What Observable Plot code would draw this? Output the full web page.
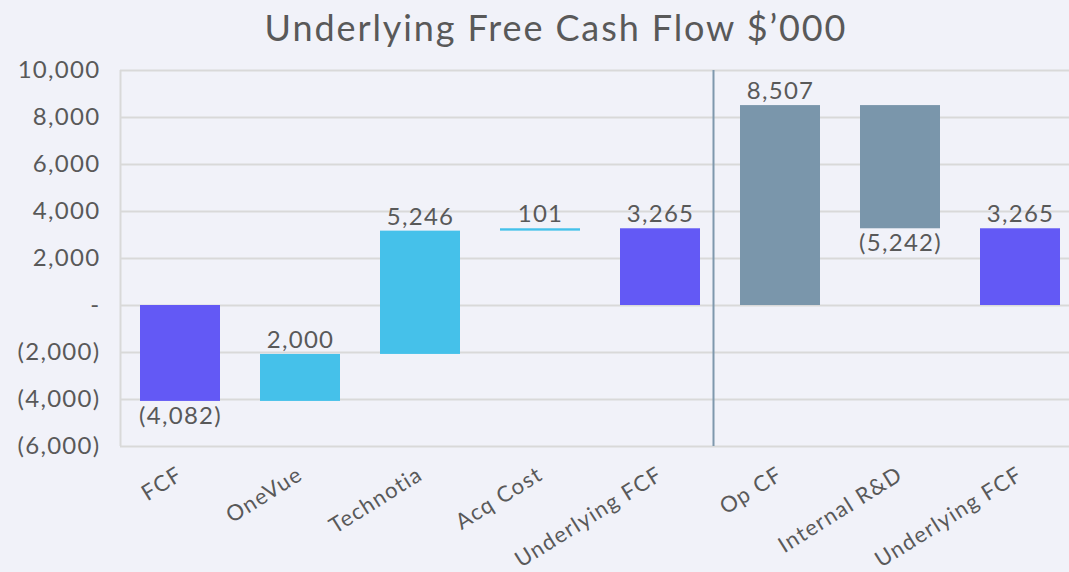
<!DOCTYPE html>
<html>
<head>
<meta charset="utf-8">
<script src="https://cdn.jsdelivr.net/npm/d3@7"></script>
<script src="https://cdn.jsdelivr.net/npm/@observablehq/plot@0.6"></script>
<style>
  html, body { margin: 0; padding: 0; background: #f1f2f9; overflow: hidden; width: 1069px; height: 572px; }
  #title { height: 52px; line-height: 54px; font-family: Lato, sans-serif; font-size: 36px; color: #595959; text-align: center; padding-left: 43px; box-sizing: border-box; width: 1069px; letter-spacing: 1.9px; white-space: nowrap; overflow: visible; }
  #chart { width: 1080px; }
  #chart svg { display: block; max-width: none !important; }
</style>
</head>
<body>
<div id="title">Underlying Free Cash Flow $’000</div>
<div id="chart"></div>
<script>
const categories = ["FCF", "OneVue", "Technotia", "Acq Cost", "Underlying FCF", "Op CF", "Internal R&D", "Underlying FCF"];
const values = [-4082, 2000, 5246, 101, 3265, 8507, -5242, 3265];
const kinds = ["total", "delta", "delta", "delta", "total", "total", "delta", "total"];
const groups = ["total", "acq", "acq", "acq", "total", "op", "op", "total"];
const yTicks = [-6000, -4000, -2000, 0, 2000, 4000, 6000, 8000, 10000];

const colors = {total: "#6359f5", acq: "#45c1ea", op: "#7a96ab"};
const fmt = d3.format(",");
const acct = d => d === 0 ? "-" : d < 0 ? `(${fmt(-d)})` : fmt(d);

let run = 0;
const rows = categories.map((c, i) => {
  let y1, y2;
  if (kinds[i] === "total") { y1 = 0; y2 = values[i]; }
  else { y1 = run; y2 = run + values[i]; }
  run = y2;
  return {i, name: c, y1, y2, value: values[i], group: groups[i],
          top: Math.max(y1, y2), bottom: Math.min(y1, y2)};
});
const pos = rows.filter(d => d.value >= 0);
const neg = rows.filter(d => d.value < 0);

const textColor = "#595959";
const chart = Plot.plot({
  width: 1080,
  height: 520,
  marginLeft: 120,
  marginRight: 0,
  marginTop: 18,
  marginBottom: 126,
  style: {background: "transparent", fontFamily: "Lato, sans-serif", color: textColor, maxWidth: "none", letterSpacing: "1.3px"},
  x: {domain: rows.map(d => d.i), paddingInner: 1/3, paddingOuter: 1/6, label: null},
  y: {domain: [-6000, 10000], label: null},
  marks: [
    Plot.gridY(yTicks, {stroke: "#d9d9d9", strokeOpacity: 1, strokeWidth: 2}),
    Plot.ruleX([0], {x: d => d, dx: -60, y1: -6000, y2: 10000, stroke: "#d9d9d9", strokeWidth: 2}),
    Plot.barY(rows, {x: "i", y1: "y1", y2: "y2", fill: d => colors[d.group]}),
    Plot.ruleX([5], {x: d => d, dx: -67, y1: -6000, y2: 10000, stroke: "#7f98ad", strokeWidth: 2}),
    Plot.text(pos, {x: "i", y: "top", dy: -14, text: d => acct(d.value), fontSize: 24, fill: textColor}),
    Plot.text(neg, {x: "i", y: "bottom", dy: 15, text: d => acct(d.value), fontSize: 24, fill: textColor}),
    Plot.axisY(yTicks, {tickSize: 0, tickPadding: 20, tickFormat: acct, fontSize: 24, fill: textColor, label: null}),
    Plot.axisX({tickSize: 0, tickRotate: -32, tickPadding: 26, tickFormat: i => categories[i], fontSize: 22, fill: textColor, label: null})
  ]
});
document.getElementById("chart").appendChild(chart);
</script>
</body>
</html>
